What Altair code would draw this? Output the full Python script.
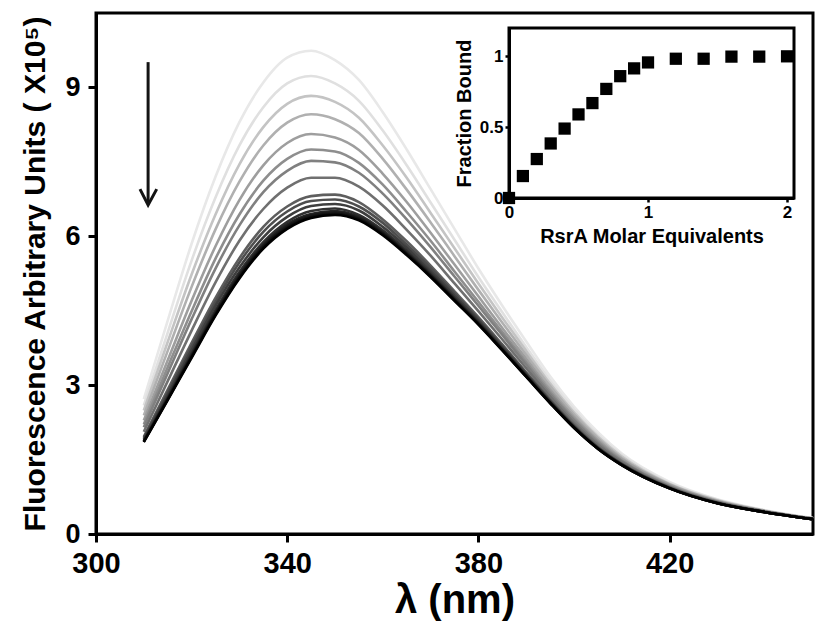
import altair as alt
import pandas as pd

# ---------------- data ----------------
wavelength_nm = [310, 315, 320, 325, 330, 335, 340, 345, 350, 355, 360, 365, 370,
                 375, 380, 385, 390, 395, 400, 405, 410, 420, 430, 440, 450]

rsra_equivalents = [0.0, 0.1, 0.2, 0.3, 0.4, 0.5, 0.6, 0.7, 0.8, 0.9, 1.0,
                    1.2, 1.4, 1.6, 1.8, 2.0]
fraction_bound = [0.0, 0.155, 0.275, 0.385, 0.49, 0.59, 0.67, 0.77, 0.86,
                  0.915, 0.957, 0.983, 0.983, 0.998, 0.998, 1.0]

# fluorescence (x10^5) for each titration step
eq_0_0 = [2.72, 4.30, 5.85, 7.20, 8.30, 9.10, 9.60, 9.74, 9.55, 9.15, 8.50, 7.75, 6.95, 6.15, 5.35, 4.60, 3.88, 3.18, 2.57, 2.05, 1.62, 1.05, 0.70, 0.48, 0.32]
eq_0_1 = [2.59, 4.06, 5.51, 6.78, 7.83, 8.60, 9.08, 9.23, 9.08, 8.73, 8.13, 7.43, 6.68, 5.93, 5.18, 4.47, 3.77, 3.10, 2.51, 2.00, 1.59, 1.03, 0.69, 0.47, 0.32]
eq_0_2 = [2.49, 3.87, 5.23, 6.44, 7.45, 8.20, 8.67, 8.83, 8.71, 8.39, 7.83, 7.18, 6.47, 5.76, 5.05, 4.36, 3.69, 3.03, 2.45, 1.96, 1.56, 1.01, 0.68, 0.47, 0.31]
eq_0_3 = [2.39, 3.69, 4.98, 6.14, 7.10, 7.83, 8.29, 8.46, 8.36, 8.08, 7.56, 6.94, 6.28, 5.60, 4.92, 4.26, 3.61, 2.98, 2.41, 1.93, 1.53, 1.00, 0.67, 0.46, 0.31]
eq_0_4 = [2.29, 3.50, 4.70, 5.80, 6.73, 7.43, 7.88, 8.06, 7.99, 7.74, 7.26, 6.69, 6.07, 5.43, 4.79, 4.15, 3.53, 2.91, 2.36, 1.89, 1.51, 0.99, 0.66, 0.46, 0.31]
eq_0_5 = [2.21, 3.36, 4.49, 5.55, 6.44, 7.12, 7.56, 7.75, 7.71, 7.48, 7.04, 6.49, 5.91, 5.29, 4.68, 4.07, 3.46, 2.86, 2.32, 1.86, 1.48, 0.97, 0.65, 0.46, 0.31]
eq_0_6 = [2.15, 3.24, 4.33, 5.35, 6.22, 6.89, 7.32, 7.52, 7.49, 7.28, 6.86, 6.34, 5.78, 5.19, 4.60, 4.01, 3.41, 2.82, 2.29, 1.83, 1.47, 0.96, 0.65, 0.45, 0.31]
eq_0_7 = [2.06, 3.08, 4.10, 5.07, 5.91, 6.55, 6.98, 7.18, 7.18, 7.00, 6.62, 6.13, 5.61, 5.05, 4.49, 3.92, 3.34, 2.77, 2.24, 1.80, 1.45, 0.95, 0.64, 0.45, 0.30]
eq_0_8 = [1.96, 2.91, 3.85, 4.76, 5.56, 6.19, 6.60, 6.81, 6.84, 6.69, 6.34, 5.90, 5.41, 4.89, 4.37, 3.82, 3.26, 2.71, 2.20, 1.76, 1.42, 0.94, 0.63, 0.45, 0.30]
eq_0_9 = [1.94, 2.86, 3.78, 4.68, 5.47, 6.09, 6.50, 6.71, 6.74, 6.60, 6.27, 5.83, 5.36, 4.85, 4.33, 3.79, 3.24, 2.69, 2.18, 1.75, 1.41, 0.93, 0.63, 0.44, 0.30]
eq_1_0 = [1.91, 2.81, 3.71, 4.60, 5.37, 5.98, 6.39, 6.61, 6.65, 6.52, 6.19, 5.77, 5.30, 4.80, 4.30, 3.76, 3.22, 2.68, 2.17, 1.74, 1.41, 0.93, 0.63, 0.44, 0.30]
eq_1_2 = [1.89, 2.76, 3.64, 4.51, 5.28, 5.88, 6.29, 6.51, 6.56, 6.43, 6.12, 5.71, 5.25, 4.76, 4.27, 3.74, 3.20, 2.66, 2.16, 1.73, 1.40, 0.93, 0.62, 0.44, 0.30]
eq_1_4 = [1.87, 2.74, 3.61, 4.47, 5.23, 5.83, 6.24, 6.45, 6.51, 6.39, 6.08, 5.67, 5.22, 4.74, 4.25, 3.72, 3.19, 2.65, 2.15, 1.73, 1.40, 0.92, 0.62, 0.44, 0.30]
eq_1_6 = [1.86, 2.72, 3.58, 4.44, 5.20, 5.80, 6.20, 6.42, 6.48, 6.36, 6.06, 5.65, 5.21, 4.72, 4.24, 3.71, 3.18, 2.65, 2.15, 1.72, 1.39, 0.92, 0.62, 0.44, 0.30]
eq_1_8 = [1.86, 2.71, 3.57, 4.42, 5.17, 5.77, 6.17, 6.39, 6.45, 6.34, 6.04, 5.64, 5.19, 4.71, 4.23, 3.71, 3.17, 2.64, 2.14, 1.72, 1.39, 0.92, 0.62, 0.44, 0.30]
eq_2_0 = [1.85, 2.70, 3.55, 4.40, 5.15, 5.75, 6.15, 6.37, 6.43, 6.32, 6.02, 5.62, 5.18, 4.70, 4.22, 3.70, 3.17, 2.64, 2.14, 1.72, 1.39, 0.92, 0.62, 0.44, 0.30]

spectra = [eq_0_0, eq_0_1, eq_0_2, eq_0_3, eq_0_4, eq_0_5, eq_0_6, eq_0_7,
           eq_0_8, eq_0_9, eq_1_0, eq_1_2, eq_1_4, eq_1_6, eq_1_8, eq_2_0]

gray_levels = ["#e8e8e8", "#e0e0e0", "#c4c4c4", "#b0b0b0", "#9e9e9e", "#8e8e8e",
               "#808080", "#707070", "#5e5e5e", "#4e4e4e", "#3e3e3e", "#303030",
               "#242424", "#181818", "#0e0e0e", "#000000"]

# arrow annotation (data coordinates)
arrow_shaft_x = [310.9, 310.9]
arrow_shaft_y = [9.51, 6.66]
arrow_head_x = [309.2, 310.9, 312.7]
arrow_head_y = [6.95, 6.63, 6.95]

# inset frame bounds (inset data coordinates)
inset_x_domain = [0, 2.05]
inset_y_domain = [0, 1.2]

# ---------------- tables ----------------
curve_ids = [f"{e:.1f}" for e in rsra_equivalents]
rows = []
for i, (cid, spec) in enumerate(zip(curve_ids, spectra)):
    for wl, v in zip(wavelength_nm, spec):
        rows.append({"wl": wl, "f": v, "curve": cid, "idx": i})
main_df = pd.DataFrame(rows)

arrow_rows = []
for k, (x, y) in enumerate(zip(arrow_shaft_x, arrow_shaft_y)):
    arrow_rows.append({"x": x, "y": y, "part": "shaft", "o": k})
for k, (x, y) in enumerate(zip(arrow_head_x, arrow_head_y)):
    arrow_rows.append({"x": x, "y": y, "part": "head", "o": k})
arrow_df = pd.DataFrame(arrow_rows)

inset_df = pd.DataFrame({"eq": rsra_equivalents, "fb": fraction_bound})
frame_df = pd.DataFrame({"x0": [inset_x_domain[0]], "x1": [inset_x_domain[1]],
                         "y0": [inset_y_domain[0]], "y1": [inset_y_domain[1]]})

FONT = "Liberation Sans"
W, H = 717, 521

# ---------------- main spectra ----------------
main_x = alt.Scale(domain=[300, 450], nice=False, zero=False)
main_y = alt.Scale(domain=[0, 10.5], nice=False)
x_axis = alt.Axis(values=[300, 340, 380, 420], title="λ (nm)", grid=False,
                  labelFontSize=29, titleFontSize=40, tickSize=8, tickWidth=3,
                  domainWidth=3, labelPadding=7, titlePadding=2, labelFlush=False)
y_axis = alt.Axis(values=[0, 3, 6, 9], title="Fluorescence Arbitrary Units ( X10⁵)",
                  grid=False, labelFontSize=27, titleFontSize=30, tickSize=8,
                  tickWidth=3, domainWidth=3, labelPadding=8, titlePadding=14)

lines = alt.Chart(main_df).mark_line(strokeWidth=2.6, interpolate="monotone").encode(
    x=alt.X("wl:Q", scale=main_x, axis=x_axis),
    y=alt.Y("f:Q", scale=main_y, axis=y_axis),
    color=alt.Color("curve:N", scale=alt.Scale(domain=curve_ids, range=gray_levels),
                    legend=None, sort=curve_ids),
    order=alt.Order("wl:Q"),
)

arrow = alt.Chart(arrow_df).mark_line(color="#141414", strokeWidth=3,
                                      strokeJoin="miter").encode(
    x=alt.X("x:Q", scale=main_x),
    y=alt.Y("y:Q", scale=main_y),
    detail="part:N",
    order="o:Q",
)

main_layer = alt.layer(lines, arrow)

# ---------------- inset ----------------
inset_xs = alt.Scale(domain=inset_x_domain, range=[413, 698], nice=False, zero=False)
inset_ys = alt.Scale(domain=inset_y_domain, range=[185, 15], nice=False)
inset_x_axis = alt.Axis(orient="bottom", offset=-336, values=[0, 1, 2], format="~g",
                        title="RsrA Molar Equivalents", grid=False, labelFontSize=17,
                        titleFontSize=20, tickSize=4, tickWidth=2.5, domainWidth=3,
                        labelPadding=2, titlePadding=6, labelFlush=False)
inset_y_axis = alt.Axis(orient="left", offset=-413, values=[0, 0.5, 1], format="~g",
                        title="Fraction Bound", grid=False, labelFontSize=17,
                        titleFontSize=20, tickSize=4, tickWidth=2.5, domainWidth=3,
                        labelPadding=2, titlePadding=5)

frame = alt.Chart(frame_df).mark_rect(fillOpacity=0, stroke="black", strokeWidth=3).encode(
    x=alt.X("x0:Q", scale=inset_xs, axis=inset_x_axis),
    x2="x1:Q",
    y=alt.Y("y0:Q", scale=inset_ys, axis=inset_y_axis),
    y2="y1:Q",
)
points = alt.Chart(inset_df).mark_square(size=150, color="black", opacity=1).encode(
    x=alt.X("eq:Q", scale=inset_xs, axis=inset_x_axis),
    y=alt.Y("fb:Q", scale=inset_ys, axis=inset_y_axis),
)
inset_layer = alt.layer(frame, points)

chart = alt.layer(main_layer, inset_layer).resolve_scale(
    x="independent", y="independent", color="independent"
).resolve_axis(x="independent", y="independent").properties(
    width=W, height=H,
    autosize=alt.AutoSizeParams(type="none"),
    padding={"left": 96, "top": 13, "right": 3, "bottom": 96},
    background="white",
).configure_view(stroke="black", strokeWidth=3).configure_axis(
    labelFont=FONT, titleFont=FONT, labelFontWeight="bold", titleFontWeight="bold",
    labelColor="black", titleColor="black", domainColor="black", tickColor="black",
)

chart.save("out.html", embed_options={"renderer": "svg", "actions": False})
